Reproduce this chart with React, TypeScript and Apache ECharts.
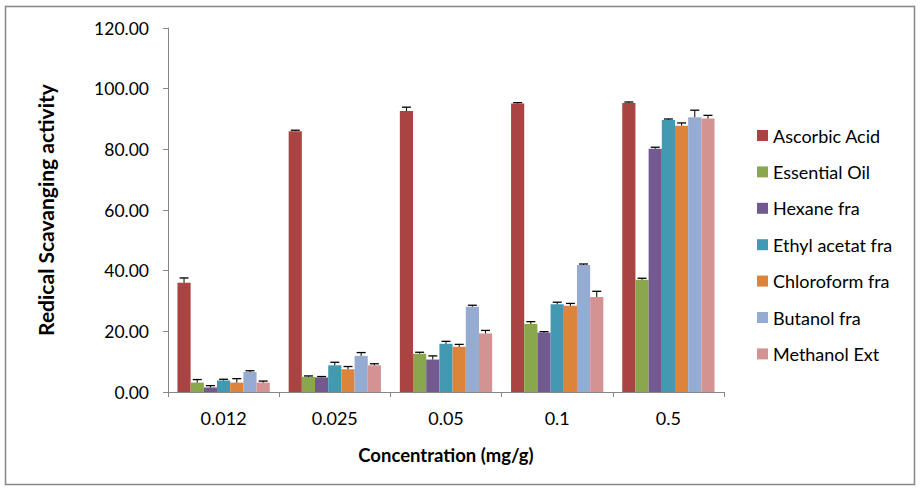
import React, { useEffect, useRef } from "react";
import * as echarts from "echarts";

const categories = ["0.012", "0.025", "0.05", "0.1", "0.5"];
const seriesNames = [
  "Ascorbic Acid",
  "Essential Oil",
  "Hexane fra",
  "Ethyl acetat fra",
  "Chloroform fra",
  "Butanol fra",
  "Methanol Ext",
];
const ascorbic = [36.0, 86.0, 92.6, 95.1, 95.3];
const essential = [3.1, 5.0, 12.6, 22.4, 37.0];
const hexane = [1.5, 4.8, 10.7, 19.6, 80.2];
const ethyl = [3.8, 8.8, 15.9, 28.9, 89.7];
const chloro = [3.1, 7.5, 14.9, 28.4, 87.8];
const butanol = [6.6, 11.9, 28.1, 41.9, 90.6];
const methanol = [3.1, 8.8, 19.3, 31.3, 90.2];

const ascorbicErr = [1.6, 0.3, 1.3, 0.3, 0.3];
const essentialErr = [1.0, 0.3, 0.5, 0.8, 0.5];
const hexaneErr = [0.6, 0.3, 1.2, 0.3, 0.5];
const ethylErr = [0.4, 1.0, 0.8, 0.7, 0.3];
const chloroErr = [1.3, 0.9, 0.8, 0.8, 0.9];
const butanolErr = [0.4, 1.1, 0.5, 0.3, 2.3];
const methanolErr = [0.5, 0.5, 1.0, 1.9, 1.0];

const yTicks = [0, 20, 40, 60, 80, 100, 120];

const colors = ["#A94442", "#8BA74E", "#72598F", "#4299B1", "#DD843C", "#95ABD1", "#D39393"];

const FONT = "Lato";
const CAT_GAP = 0.17;

export default function App() {
  const ref = useRef<HTMLDivElement>(null);
  useEffect(() => {
    if (!ref.current) return;
    const chart = echarts.init(ref.current, undefined, { renderer: "svg" });
    const values = [ascorbic, essential, hexane, ethyl, chloro, butanol, methanol];
    const errs = [ascorbicErr, essentialErr, hexaneErr, ethylErr, chloroErr, butanolErr, methanolErr];
    const errData: number[][] = [];
    values.forEach((arr, si) => {
      arr.forEach((v, ci) => errData.push([ci, si, v, errs[si][ci]]));
    });
    const nSeries = seriesNames.length;

    const barSeries = seriesNames.map((name, i) => ({
      name,
      type: "bar",
      data: values[i],
      barGap: "0%",
      barCategoryGap: CAT_GAP * 100 + "%",
      itemStyle: { color: colors[i] },
      z: 2,
    }));

    chart.setOption({
      animation: false,
      backgroundColor: "#ffffff",
      textStyle: { fontFamily: FONT },
      grid: { left: 168, right: 197, top: 28, bottom: 98 },
      legend: {
        orient: "vertical",
        left: 752,
        top: 120,
        itemWidth: 11,
        itemHeight: 11,
        itemGap: 15.4,
        icon: "rect",
        data: seriesNames,
        textStyle: { fontFamily: FONT, fontSize: 18, color: "#000", lineHeight: 21 },
      },
      graphic: [
        {
          type: "rect",
          shape: { x: 5.5, y: 6.5, width: 909, height: 478 },
          style: { fill: "none", stroke: "#868686", lineWidth: 1.5 },
          silent: true,
        },
      ],
      xAxis: {
        type: "category",
        data: categories,
        name: "Concentration (mg/g)",
        nameLocation: "middle",
        nameGap: 53,
        nameTextStyle: { fontFamily: FONT, fontWeight: "bold", fontSize: 18.5, color: "#000" },
        axisLine: { lineStyle: { color: "#868686", width: 1 } },
        axisTick: { show: true, length: 5, lineStyle: { color: "#868686" } },
        axisLabel: { fontFamily: FONT, fontSize: 18, color: "#000", margin: 17 },
      },
      yAxis: {
        type: "value",
        min: 0,
        max: 120,
        interval: 20,
        name: "Redical Scavanging activity",
        nameLocation: "middle",
        nameGap: 112,
        nameTextStyle: { fontFamily: FONT, fontWeight: "bold", fontSize: 21, color: "#000" },
        axisLine: { show: true, lineStyle: { color: "#868686", width: 1 } },
        axisTick: { show: true, length: 5, lineStyle: { color: "#868686" } },
        splitLine: { show: false },
        axisLabel: {
          fontFamily: FONT,
          fontSize: 17.5,
          color: "#000",
          margin: 19,
          formatter: (v: number) => (yTicks.includes(v) ? v.toFixed(2) : ""),
        },
      },
      series: [
        ...barSeries,
        {
          name: "errors",
          type: "custom",
          z: 5,
          data: errData,
          encode: { x: 0, y: 2 },
          renderItem: (params: any, api: any) => {
            const ci = api.value(0);
            const si = api.value(1);
            const v = api.value(2);
            const e = api.value(3);
            const base = api.coord([ci, v]);
            const top = api.coord([ci, v + e]);
            const band = api.size([1, 0])[0];
            const groupW = band * (1 - CAT_GAP);
            const bw = groupW / nSeries;
            const cx = base[0] - groupW / 2 + (si + 0.5) * bw;
            return {
              type: "group",
              children: [
                {
                  type: "line",
                  shape: { x1: cx, y1: base[1], x2: cx, y2: top[1] },
                  style: { stroke: "#000", lineWidth: 1 },
                },
                {
                  type: "line",
                  shape: { x1: cx - 4.5, y1: top[1], x2: cx + 4.5, y2: top[1] },
                  style: { stroke: "#000", lineWidth: 1.3 },
                },
              ],
            };
          },
        },
      ],
    });
    return () => chart.dispose();
  }, []);
  return (
    <div
      ref={ref}
      style={{ position: "fixed", left: 0, top: 0, width: 921, height: 490, background: "#fff" }}
    />
  );
}
